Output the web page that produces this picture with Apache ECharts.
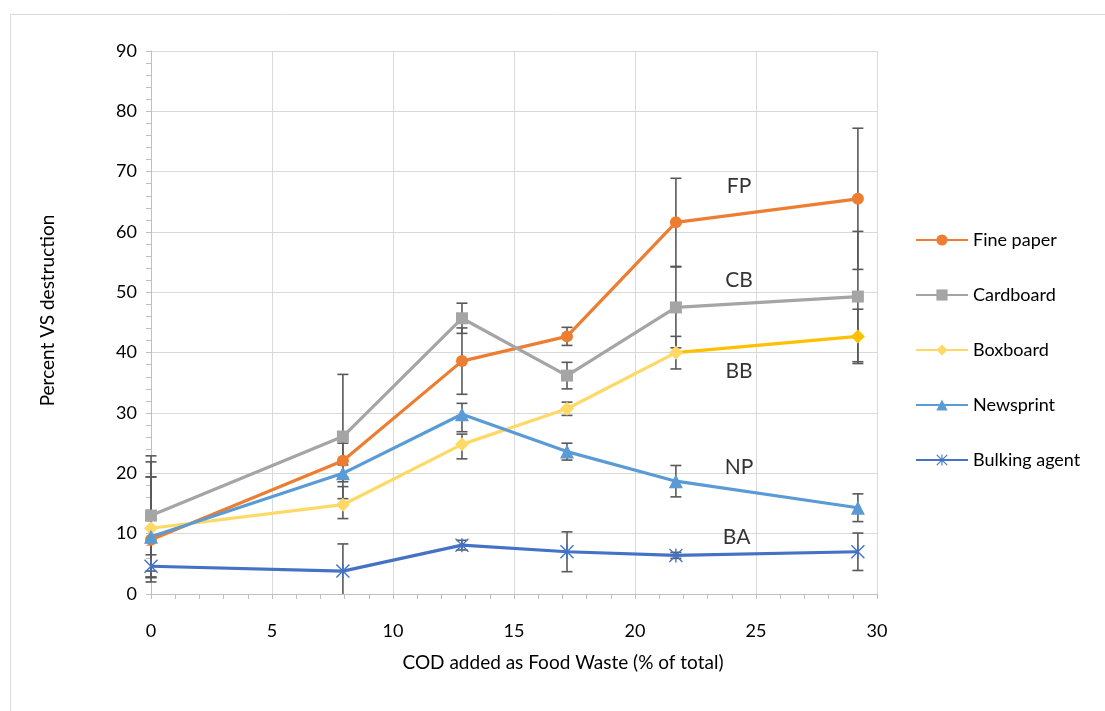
<!DOCTYPE html>
<html><head><meta charset="utf-8">
<script src="https://cdn.jsdelivr.net/npm/echarts@6/dist/echarts.min.js"></script>
<style>html,body{margin:0;padding:0;background:#fff}#c{width:1105px;height:711px}</style>
</head><body><div id="c"></div>
<script>
// ---- data ----
const xValues = [0, 7.93, 12.85, 17.19, 21.69, 29.21];
const seriesNames = ['Fine paper', 'Cardboard', 'Boxboard', 'Newsprint', 'Bulking agent'];
const finePaper    = [9.0, 22.1, 38.6, 42.7, 61.6, 65.5];
const cardboard    = [13.0, 26.1, 45.7, 36.2, 47.5, 49.3];
const boxboard     = [10.9, 14.8, 24.8, 30.7, 40.0, 42.7];
const newsprint    = [9.5, 20.0, 29.8, 23.6, 18.7, 14.3];
const bulkingAgent = [4.6, 3.8, 8.1, 7.0, 6.4, 7.0];
// error bar amounts (+ / -)
const finePaperErrPlus     = [10.4, 2.9, 5.5, 1.5, 7.3, 11.7];
const finePaperErrMinus    = [6.2, 2.7, 5.5, 1.5, 7.3, 11.7];
const cardboardErrPlus     = [9.9, 10.3, 2.5, 2.2, 6.7, 10.8];
const cardboardErrMinus    = [10.2, 10.3, 2.5, 2.2, 6.7, 10.8];
const boxboardErrPlus      = [11.0, 3.0, 1.7, 1.1, 2.7, 4.5];
const boxboardErrMinus     = [8.9, 2.3, 2.4, 1.1, 2.7, 4.5];
const newsprintErrPlus     = [9.9, 1.4, 1.8, 1.4, 2.6, 2.3];
const newsprintErrMinus    = [5.7, 1.4, 2.9, 1.4, 2.6, 2.3];
const bulkingAgentErrPlus  = [1.9, 4.5, 0.8, 3.3, 0.5, 3.1];
const bulkingAgentErrMinus = [1.9, 4.5, 0.8, 3.3, 0.5, 3.1];
// annotations
const annotationText = ['FP', 'CB', 'BB', 'NP', 'BA'];
const annotationX = [24.3, 24.3, 24.3, 24.3, 24.2];
const annotationY = [67.6, 52.0, 37.0, 21.0, 9.4];
const xTicks = [0, 5, 10, 15, 20, 25, 30];
const yTicks = [0, 10, 20, 30, 40, 50, 60, 70, 80, 90];

const FONT = 'Lato';
const colors = ['#ED7D31', '#A5A5A5', '#FFD966', '#5B9BD5', '#4472C4'];
const boxboardLastColor = '#FFC000';
const symbols = ['circle', 'rect', 'diamond', 'triangle',
  'path://M9,0 L11,0 L11,20 L9,20 Z M1.4,0 L20,18.6 L18.6,20 L0,1.4 Z M18.6,0 L20,1.4 L1.4,20 L0,18.6 Z'];
const symbolSizes = [12, 12, 14, 14, 14];
const values = [finePaper, cardboard, boxboard, newsprint, bulkingAgent];
const errPlus = [finePaperErrPlus, cardboardErrPlus, boxboardErrPlus, newsprintErrPlus, bulkingAgentErrPlus];
const errMinus = [finePaperErrMinus, cardboardErrMinus, boxboardErrMinus, newsprintErrMinus, bulkingAgentErrMinus];

const series = [];
values.forEach((vals, i) => {
  series.push({
    name: seriesNames[i] + ' err', type: 'custom', z: 1, silent: true,
    data: xValues.map((x, k) => [x, vals[k] - errMinus[i][k], vals[k] + errPlus[i][k]]),
    renderItem: (params, api) => {
      const x = api.value(0), lo = api.value(1), hi = api.value(2);
      const top = api.coord([x, hi]);
      const bot = api.coord([x, Math.max(lo, 0)]);
      const w = 5.5;
      const style = { stroke: '#595959', lineWidth: 1.6 };
      const ch = [
        { type: 'line', shape: { x1: top[0], y1: top[1], x2: bot[0], y2: bot[1] }, style },
        { type: 'line', shape: { x1: top[0] - w, y1: top[1], x2: top[0] + w, y2: top[1] }, style }
      ];
      if (lo >= 0) ch.push({ type: 'line', shape: { x1: bot[0] - w, y1: bot[1], x2: bot[0] + w, y2: bot[1] }, style });
      return { type: 'group', children: ch };
    }
  });
});
values.forEach((vals, i) => {
  const n = vals.length;
  let lineColor = colors[i];
  if (i === 2) {
    // last segment of Boxboard drawn in a deeper gold
    const off = (xValues[n - 2] - xValues[0]) / (xValues[n - 1] - xValues[0]);
    lineColor = new echarts.graphic.LinearGradient(0, 0, 1, 0, [
      { offset: 0, color: colors[i] }, { offset: off, color: colors[i] },
      { offset: off, color: boxboardLastColor }, { offset: 1, color: boxboardLastColor }
    ]);
  }
  series.push({
    name: seriesNames[i], type: 'line', z: 3,
    data: xValues.map((x, k) => (i === 2 && k === n - 1)
      ? { value: [x, vals[k]], itemStyle: { color: boxboardLastColor } }
      : [x, vals[k]]),
    symbol: symbols[i], symbolSize: symbolSizes[i], showSymbol: true,
    lineStyle: { color: lineColor, width: 3.2 },
    itemStyle: { color: colors[i] },
    emphasis: { disabled: true }
  });
});
series.push({
  name: 'annotations', type: 'scatter', z: 4, symbolSize: 0, silent: true,
  data: annotationText.map((t, k) => ({ name: t, value: [annotationX[k], annotationY[k]] })),
  label: { show: true, position: 'inside', formatter: p => p.name, fontFamily: FONT, fontSize: 21, color: '#000' }
});

const chart = echarts.init(document.getElementById('c'));
chart.setOption({
  animation: false,
  backgroundColor: '#fff',
  graphic: [{ type: 'rect', left: 8, top: 12, shape: { width: 1200, height: 800 },
    style: { fill: 'none', stroke: '#d9d9d9', lineWidth: 1 }, z: -1 }],
  grid: { left: 151, right: 228, top: 51, bottom: 117 },
  legend: {
    data: seriesNames.map((n, i) => ({ name: n, itemStyle: { color: colors[i] }, lineStyle: { color: colors[i] } })),
    orient: 'vertical', left: 910, top: 226,
    itemWidth: 52, itemHeight: 14, itemGap: 37,
    textStyle: { fontFamily: FONT, fontSize: 18, color: '#000', lineHeight: 18 }
  },
  xAxis: {
    type: 'value', min: xTicks[0], max: xTicks[xTicks.length - 1], interval: 5,
    name: 'COD added as Food Waste (% of total)', nameLocation: 'middle', nameGap: 59,
    nameTextStyle: { fontFamily: FONT, fontSize: 19, color: '#000', padding: [0, 0, 0, 98] },
    axisLine: { show: true, lineStyle: { color: '#bfbfbf', width: 1 } },
    axisTick: { show: true, length: 5, lineStyle: { color: '#bfbfbf' } },
    minorTick: { show: true, splitNumber: 5, length: 5, lineStyle: { color: '#bfbfbf' } },
    splitLine: { show: true, lineStyle: { color: '#d9d9d9', width: 1 } },
    axisLabel: { fontFamily: FONT, fontSize: 18, color: '#000', margin: 28 }
  },
  yAxis: {
    type: 'value', min: yTicks[0], max: yTicks[yTicks.length - 1], interval: 10,
    name: 'Percent VS destruction', nameLocation: 'middle', nameGap: 94, nameRotate: 90,
    nameTextStyle: { fontFamily: FONT, fontSize: 19, color: '#000', padding: [0, 0, 0, 24] },
    axisLine: { show: true, lineStyle: { color: '#bfbfbf', width: 1 } },
    axisTick: { show: true, length: 5, lineStyle: { color: '#bfbfbf' } },
    minorTick: { show: true, splitNumber: 5, length: 5, lineStyle: { color: '#bfbfbf' } },
    splitLine: { show: true, lineStyle: { color: '#d9d9d9', width: 1 } },
    axisLabel: { fontFamily: FONT, fontSize: 18, color: '#000', margin: 14 }
  },
  series
});
</script></body></html>
